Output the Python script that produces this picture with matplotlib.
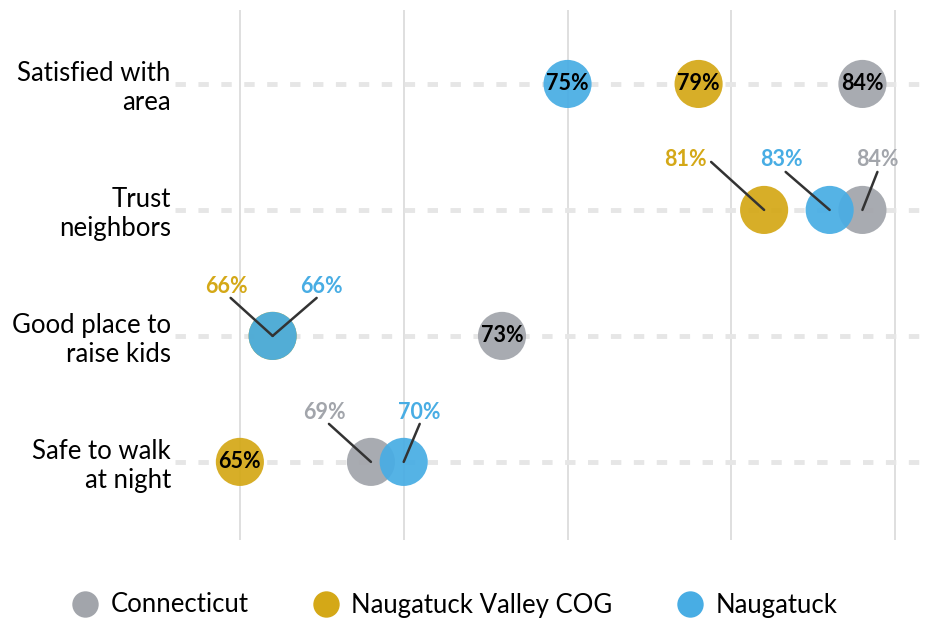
import matplotlib
matplotlib.use("Agg")
import matplotlib.pyplot as plt
from matplotlib.lines import Line2D

plt.rcParams['font.family'] = ['Lato', 'DejaVu Sans']
plt.rcParams['lines.scale_dashes'] = False

# data
categories = ["Satisfied with\narea", "Trust\nneighbors", "Good place to\nraise kids", "Safe to walk\nat night"]
series_names = ["Connecticut", "Naugatuck Valley COG", "Naugatuck"]
connecticut = [84, 84, 73, 69]
naugatuck_cog = [79, 81, 66, 65]
naugatuck = [75, 83, 66, 70]
x_ticks = [65, 70, 75, 80, 85]

colors = ["#a2a5ab", "#d4a817", "#48ade4"]
values = [connecticut, naugatuck_cog, naugatuck]

# labels moved outside the dot: (series, row) -> (text offset px, line start px)
outside = {
    (1, 1): ((-79, 50), (-53, 48)),
    (2, 1): ((-48, 50), (-44, 38)),
    (0, 1): ((15, 50), (15, 38)),
    (1, 2): ((-46, 49), (-42, 38)),
    (2, 2): ((49, 49), (44, 38)),
    (0, 3): ((-46, 49), (-42, 38)),
    (2, 3): ((16, 49), (16, 38)),
}

PX = 0.72  # points per pixel at dpi 100

fig = plt.figure(figsize=(9.35, 6.22), dpi=100)
ax = fig.add_axes([175 / 935, 1 - 540 / 622, 750 / 935, 530 / 622])

rows = list(range(len(categories)))
ax.set_xlim(63.02, 85.91)
ax.set_ylim(3.62, -0.587)

for xv in x_ticks:
    ax.axvline(xv, color="#dcdcdc", lw=1.3, zorder=0)
for r in rows:
    ax.plot([63.02, 85.91], [r, r], color="#e6e6e6", lw=3.5,
            dashes=(7.5, 9), zorder=0.5, solid_capstyle='butt')

for i, (vals, c) in enumerate(zip(values, colors)):
    ax.scatter(vals, rows, s=1200, color=c, alpha=0.93, edgecolors='none', zorder=2)

for i, (vals, c) in enumerate(zip(values, colors)):
    for r, v in zip(rows, vals):
        label = f"{v}%"
        if (i, r) in outside:
            (tx, ty), (lx, ly) = outside[(i, r)]
            ax.annotate('', xy=(v, r), xytext=(lx * PX, ly * PX), textcoords='offset points',
                        arrowprops=dict(arrowstyle='-', color='#333333', lw=1.8,
                                        shrinkA=0, shrinkB=0), zorder=4)
            ax.annotate(label, xy=(v, r), xytext=(tx * PX, ty * PX), textcoords='offset points',
                        ha='center', va='center', fontsize=15.5, fontweight='bold', color=c, zorder=5)
        else:
            ax.text(v, r, label, ha='center', va='center', fontsize=15.5,
                    fontweight='bold', color='black', zorder=5)

ax.set_yticks(rows)
ax.set_yticklabels(categories, fontsize=18.5, ha='right', linespacing=1.2)
ax.tick_params(axis='y', length=0, pad=3)
ax.set_xticks([])
for s in ax.spines.values():
    s.set_visible(False)

handles = [Line2D([0], [0], marker='o', linestyle='none', markersize=19,
                  markerfacecolor=c, markeredgecolor='none') for c in colors]
fig.legend(handles, series_names, loc='center', bbox_to_anchor=(452 / 935, 1 - 605 / 622),
           ncol=3, frameon=False, fontsize=18.5, handletextpad=0.3, columnspacing=2.3,
           handlelength=1.4)

fig.savefig("out.png", dpi=100)
